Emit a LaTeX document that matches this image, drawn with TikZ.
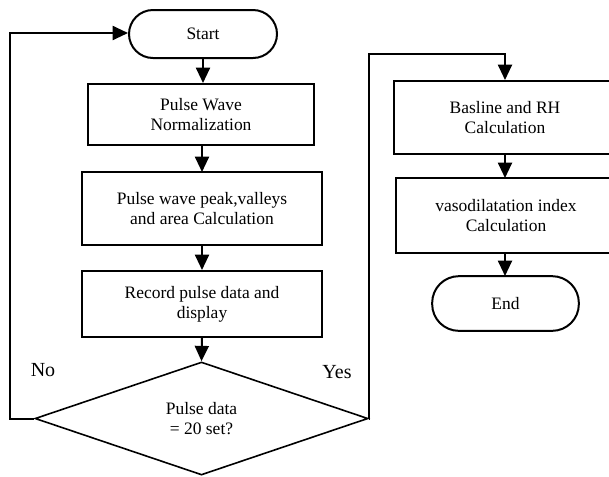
\documentclass[tikz,border=0pt]{standalone}
\usepackage{fontspec}
\setmainfont{Liberation Serif}
\usetikzlibrary{shapes.geometric,arrows.meta}
\begin{document}
\begin{tikzpicture}[x=0.75pt,y=-0.75pt,
  line width=1.5pt,
  arr/.style={-{Triangle[width=10.5pt,length=11.5pt]}},
  txt/.style={font=\fontsize{13.1}{15}\selectfont, align=center},
  proc/.style={draw, rectangle, txt, inner sep=0pt},
  term/.style={draw, rectangle, txt, inner sep=0pt},
  lbl/.style={font=\fontsize{15}{18}\selectfont, inner sep=0pt}]
\useasboundingbox (0,0) rectangle (609,476);
\clip (0,0) rectangle (609,476);

\node[term, rounded corners=18pt, minimum width=111pt, minimum height=36pt] (start) at (203,34) {Start};
\node[proc, minimum width=169.5pt, minimum height=45.75pt] (b1) at (201,114.5) {Pulse Wave\\Normalization};
\node[proc, minimum width=180pt, minimum height=54.75pt] (b2) at (202,208.5) {Pulse wave peak,valleys\\and area Calculation};
\node[proc, minimum width=180pt, minimum height=49.5pt] (b3) at (202,304) {Record pulse data and\\display};
\node[draw, diamond, line width=1.2pt, txt, inner sep=0pt, aspect=2.95, minimum width=249.75pt, minimum height=84.75pt] (dec) at (201.5,418.5) {Pulse data\\= 20 set?};

\node[proc, minimum width=166.5pt, minimum height=54.75pt] (b4) at (505,117.5) {Basline and RH\\Calculation};
\node[proc, minimum width=165pt, minimum height=56.25pt] (b5) at (506,215.5) {vasodilatation index\\Calculation};
\node[term, rounded corners=20pt, minimum width=110pt, minimum height=41pt] (end) at (505.5,303.5) {End};

\node[lbl] (no) at (43,370) {No};
\node[lbl] (yes) at (337,372) {Yes};

\coordinate (lc1) at (10,418.5);
\coordinate (lc2) at (10,33);
\coordinate (rc1) at (369,418.5);
\coordinate (rc2) at (369,54);
\coordinate (rc3) at (505,54);

\draw[arr] (start.south) -- (start.south |- b1.north);
\draw[arr] (202,145.5) -- (202,172);
\draw[arr] (b2.south) -- (b2.south |- b3.north);
\draw[arr] (b3.south) -- (dec.north);
\draw[arr] (dec.west) -- (lc1) -- (lc2) -- (lc2 -| start.west);
\draw[arr] (dec.east) -- (rc1) -- (rc2) -- (rc3) -- (rc3 |- b4.north);
\draw[arr] (505,154.5) -- (505,178);
\draw[arr] (505,253.5) -- (505,276);
\end{tikzpicture}
\end{document}
